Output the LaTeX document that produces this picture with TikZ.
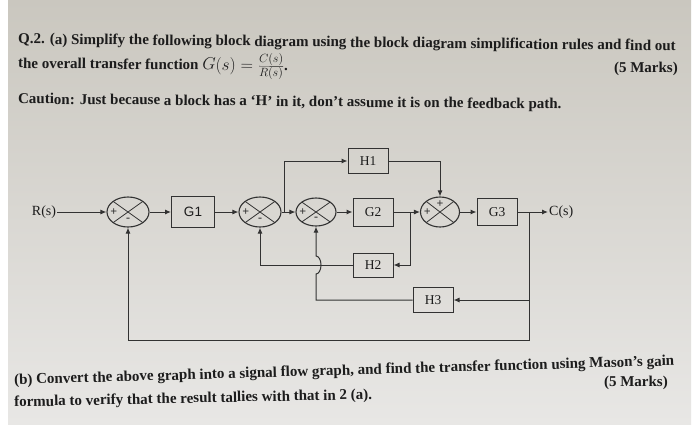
\documentclass[tikz,border=0pt]{standalone}
\usepackage{fontspec}
\setmainfont{Liberation Serif}
\setsansfont{Liberation Sans}
\usepackage{tikz}
\usepackage{xcolor}
\definecolor{inkgrey}{RGB}{50,50,50}
\definecolor{textink}{RGB}{28,28,28}
\definecolor{papertop}{RGB}{202,199,191}
\definecolor{paperbot}{RGB}{232,231,229}
\usetikzlibrary{arrows.meta,positioning,shapes.geometric,calc}
\newcommand{\qfont}{\fontsize{15}{17}\selectfont\bfseries}
\newcommand{\blkfont}{\fontsize{13.5}{13.5}\selectfont}
\tikzset{
  blk/.style={draw=inkgrey,line width=1pt,minimum width=40pt,minimum height=26pt,inner sep=1pt,font=\blkfont,text=textink},
  sumj/.style={ellipse,draw=inkgrey,line width=1.1pt,minimum width=42pt,minimum height=30pt,inner sep=0pt,
    path picture={\draw[inkgrey,line width=0.8pt] (path picture bounding box.north west) -- (path picture bounding box.south east)
      (path picture bounding box.south west) -- (path picture bounding box.north east);}},
  sgn/.style={font=\bfseries\fontsize{12}{12}\selectfont,text=inkgrey,inner sep=1pt},
  pm/.style={sumj,label={[sgn,label distance=-12pt]west:+},label={[sgn,label distance=-11pt]south:-}},
  pp/.style={sumj,label={[sgn,label distance=-12pt]west:+},label={[sgn,label distance=-12pt]north:+}},
  sig/.style={font=\fontsize{14}{14}\selectfont,text=textink,inner sep=1pt},
  qtext/.style={anchor=west,font=\qfont,text=textink,inner sep=0pt},
  arr/.style={-{Latex[length=6pt,width=5pt]},line width=1pt,draw=inkgrey},
  line/.style={line width=1pt,draw=inkgrey},
}
\begin{document}
\begin{tikzpicture}[x=1pt,y=-1pt]
    \useasboundingbox (0,0) rectangle (700,426);
    \fill[white] (0,0) rectangle (700,426);
    \fill[top color=papertop,bottom color=paperbot] (8,0) rectangle (691,424);
    % question text
    \node[qtext,rotate=-0.6] (qa1) at (18,40) {Q.2. (a) Simplify the following block diagram using the block diagram simplification rules and find out};
    \node[qtext,rotate=-0.6] (qa2) at (18,64) {the overall transfer function {\fontsize{17}{17}\selectfont$G(s)=\frac{C(s)}{R(s)}$}.};
    \node[qtext,anchor=east] (mka) at (678,69) {(5 Marks)};
    \node[qtext,rotate=-0.55] (qc) at (18,100) {Caution: Just because a block has a ‘H’ in it, don’t assume it is on the feedback path.};
    % forward path
    \node[sig] (R) at (44,212) {R(s)};
    \node[pm] (s1) at (128,212) {};
    \node[blk,minimum width=43pt,minimum height=31pt,font=\sffamily\fontsize{13.5}{13.5}\selectfont] (G1) at (193,212) {G1};
    \node[pm] (s2) at (260,212) {};
    \coordinate (b1) at (284,212);
    \node[pm,minimum width=40pt,minimum height=28pt] (s3) at (316,212) {};
    \node[blk,minimum height=25pt] (H1) at (368,161) {H1};
    \node[blk,minimum height=28pt] (G2) at (373,212) {G2};
    \coordinate (b2) at (410,212);
    \node[pp,minimum width=39pt] (s4) at (440,212) {};
    \node[blk,minimum height=27pt] (G3) at (497,212) {G3};
    \coordinate (b3) at (529,212);
    \node[sig,anchor=west] (C) at (548,212) {C(s)};
    % feedback blocks
    \node[blk,minimum height=24pt] (H2) at (373,265) {H2};
    \node[blk,minimum height=25pt] (H3) at (433,300) {H3};
    \coordinate (j) at (s3.south |- H2.west);
    % connectors
    \draw[arr] (R) -- (s1);
    \draw[arr] (s1) -- (G1);
    \draw[arr] (G1) -- (s2);
    \draw[arr] (s2) -- (s3);
    \draw[arr] (b1) |- (H1);
    \draw[arr] (H1) -| (s4);
    \draw[arr] (s3) -- (G2);
    \draw[arr] (G2) -- (s4);
    \draw[arr] (s4) -- (G3);
    \draw[arr] (G3) -- (C);
    \draw[arr] (b2) |- (H2);
    \draw[arr] (H2) -| (s2);
    \draw[arr] (b3) |- (H3);
    \draw[arr] (H3.west) -| ([yshift=-9pt]j) arc[start angle=-90,end angle=90,x radius=5pt,y radius=9pt] -- (s3.south);
    \draw[arr] (b3) -- ++(0,128) -| (s1);
    % part (b)
    \node[qtext,rotate=1.66] (qb1) at (14,381) {(b) Convert the above graph into a signal flow graph, and find the transfer function using Mason’s gain};
    \node[qtext,anchor=east] (mkb) at (668,383) {(5 Marks)};
    \node[qtext,rotate=1.2] (qb2) at (14,403) {formula to verify that the result tallies with that in 2 (a).};
\end{tikzpicture}
\end{document}
